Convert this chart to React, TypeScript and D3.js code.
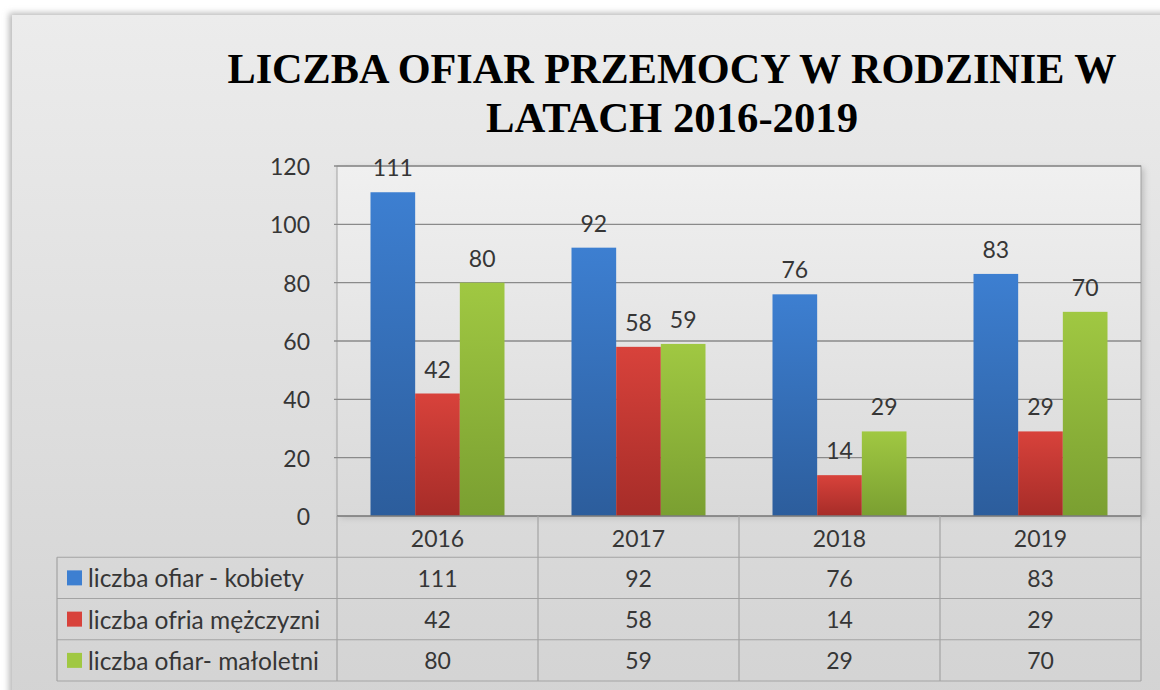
import React from "react";
import * as d3 from "d3";

// chart data
const years = ["2016", "2017", "2018", "2019"];
const kobiety = [111, 92, 76, 83];
const mezczyzni = [42, 58, 14, 29];
const maloletni = [80, 59, 29, 70];
const seriesNames = [
  "liczba ofiar - kobiety",
  "liczba ofria mężczyzni",
  "liczba ofiar- małoletni",
];
const yTicks = [0, 20, 40, 60, 80, 100, 120];
const titleLines = ["LICZBA OFIAR PRZEMOCY W RODZINIE W", "LATACH 2016-2019"];
const titleWidths = [889, 372];

const W = 1160;
const H = 690;
const plot = { left: 337, right: 1141, top: 166, bottom: 516 };
const table = { left: 57, bottom: 681 };
const sans = "Lato, 'Open Sans', sans-serif";
const serif =
  "'Liberation Serif', Tinos, 'Times New Roman', Times, 'Nimbus Roman', 'FreeSerif', 'DejaVu Serif', 'Noto Serif', serif";
const textColor = "#363636";
const gridColor = "#8a8a8a";
const borderColor = "#a3a3a3";

// top / bottom colours of each series' bar gradient
const barColors = [
  ["#3d7fd1", "#2c5d9c"],
  ["#d8423b", "#a62c28"],
  ["#a0c842", "#7a9f31"],
];

export default function App() {
  const series = [kobiety, mezczyzni, maloletni];

  const x = d3.scaleBand().domain(years).range([plot.left, plot.right]);
  const xInner = d3
    .scaleBand<number>()
    .domain(d3.range(series.length))
    .range([0, x.bandwidth()])
    .paddingInner(0)
    .paddingOuter(0.75);
  const y = d3.scaleLinear().domain([0, 120]).range([plot.bottom, plot.top]);

  const rows = d3
    .scaleBand()
    .domain(["header", ...seriesNames])
    .range([plot.bottom, table.bottom]);

  return (
    <div style={{ position: "absolute", left: 0, top: 0 }}>
      <svg width={W} height={H} style={{ display: "block" }}>
        <defs>
          <linearGradient id="panelGrad" x1="0" y1="0" x2="0" y2="1">
            <stop offset="0%" stopColor="#ececec" />
            <stop offset="100%" stopColor="#d3d3d3" />
          </linearGradient>
          <linearGradient id="plotGrad" x1="0" y1="0" x2="0" y2="1">
            <stop offset="0%" stopColor="#f0f0f0" />
            <stop offset="100%" stopColor="#d9d9d9" />
          </linearGradient>
          {barColors.map((c, i) => (
            <linearGradient key={i} id={`barGrad${i}`} x1="0" y1="0" x2="0" y2="1">
              <stop offset="0%" stopColor={c[0]} />
              <stop offset="100%" stopColor={c[1]} />
            </linearGradient>
          ))}
          <filter id="shadow" x="-5%" y="-5%" width="110%" height="110%">
            <feGaussianBlur stdDeviation="3" />
          </filter>
        </defs>

        <rect width={W} height={H} fill="#ffffff" />
        {/* panel with soft shadow */}
        <rect x={9} y={13} width={W} height={H} fill="#b8b8b8" filter="url(#shadow)" />
        <rect x={12} y={15} width={W} height={H} fill="url(#panelGrad)" />

        {/* title */}
        {titleLines.map((t, i) => (
          <text
            key={t}
            x={672}
            y={83 + i * 49}
            textAnchor="middle"
            textLength={titleWidths[i]}
            lengthAdjust="spacingAndGlyphs"
            fontFamily={serif}
            fontWeight="bold"
            fontSize={42}
            fill="#000"
          >
            {t}
          </text>
        ))}

        {/* plot area */}
        <rect
          x={plot.left + 3}
          y={plot.top + 2}
          width={plot.right - plot.left}
          height={plot.bottom - plot.top}
          fill="#bdbdbd"
          filter="url(#shadow)"
        />
        <rect
          x={plot.left}
          y={plot.top}
          width={plot.right - plot.left}
          height={plot.bottom - plot.top}
          fill="url(#plotGrad)"
          stroke={borderColor}
          strokeWidth={1}
        />

        {/* gridlines and y labels */}
        {yTicks.map((t) => (
          <g key={t}>
            {t > 0 && (
              <line
                x1={plot.left - 3}
                x2={plot.right}
                y1={y(t)}
                y2={y(t)}
                stroke={gridColor}
                strokeWidth={1.3}
              />
            )}
            <text
              x={310}
              y={y(t)}
              textAnchor="end"
              dominantBaseline="central"
              fontFamily={sans}
              fontSize={23}
              fill={textColor}
            >
              {t}
            </text>
          </g>
        ))}

        {/* bars */}
        {series.map((vals, si) =>
          vals.map((v, ci) => {
            const bx = (x(years[ci]) ?? 0) + (xInner(si) ?? 0);
            return (
              <rect
                key={`${si}-${ci}`}
                x={bx}
                y={y(v)}
                width={xInner.bandwidth()}
                height={y(0) - y(v)}
                fill={`url(#barGrad${si})`}
              />
            );
          })
        )}

        {/* data labels */}
        {series.map((vals, si) =>
          vals.map((v, ci) => (
            <text
              key={`l${si}-${ci}`}
              x={(x(years[ci]) ?? 0) + (xInner(si) ?? 0) + xInner.bandwidth() / 2}
              y={y(v) - 25}
              textAnchor="middle"
              dominantBaseline="central"
              fontFamily={sans}
              fontSize={23}
              fill={textColor}
            >
              {v}
            </text>
          ))
        )}

        {/* category axis line */}
        <line
          x1={plot.left}
          x2={plot.right}
          y1={plot.bottom + 2}
          y2={plot.bottom + 2}
          stroke="#b0b0b0"
          strokeWidth={3}
          filter="url(#shadow)"
        />
        <line
          x1={plot.left}
          x2={plot.right}
          y1={plot.bottom}
          y2={plot.bottom}
          stroke="#7d7d7d"
          strokeWidth={1.5}
        />

        {/* data table */}
        <g stroke={borderColor} strokeWidth={1.2} fill="none">
          {seriesNames.map((s) => (
            <line
              key={s}
              x1={table.left}
              x2={plot.right}
              y1={rows(s)}
              y2={rows(s)}
            />
          ))}
          <line x1={table.left} x2={plot.right} y1={table.bottom} y2={table.bottom} />
          <line
            x1={table.left}
            x2={table.left}
            y1={rows(seriesNames[0])}
            y2={table.bottom}
          />
          {years.map((yr) => (
            <line
              key={yr}
              x1={x(yr)}
              x2={x(yr)}
              y1={plot.bottom}
              y2={table.bottom}
            />
          ))}
          <line x1={plot.right} x2={plot.right} y1={plot.bottom} y2={table.bottom} />
        </g>

        {years.map((yr) => (
          <text
            key={`h${yr}`}
            x={(x(yr) ?? 0) + x.bandwidth() / 2}
            y={(rows("header") ?? 0) + rows.bandwidth() / 2 + 1}
            textAnchor="middle"
            dominantBaseline="central"
            fontFamily={sans}
            fontSize={23}
            fill={textColor}
          >
            {yr}
          </text>
        ))}

        {seriesNames.map((s, si) => {
          const cy = (rows(s) ?? 0) + rows.bandwidth() / 2;
          return (
            <g key={`r${s}`}>
              <rect x={67} y={cy - 7.5} width={15} height={15} fill={barColors[si][0]} />
              <text
                x={88}
                y={cy}
                dominantBaseline="central"
                fontFamily={sans}
                fontSize={24.5}
                fill={textColor}
              >
                {s}
              </text>
              {series[si].map((v, ci) => (
                <text
                  key={ci}
                  x={(x(years[ci]) ?? 0) + x.bandwidth() / 2}
                  y={cy}
                  textAnchor="middle"
                  dominantBaseline="central"
                  fontFamily={sans}
                  fontSize={23}
                  fill={textColor}
                >
                  {v}
                </text>
              ))}
            </g>
          );
        })}
      </svg>
    </div>
  );
}
